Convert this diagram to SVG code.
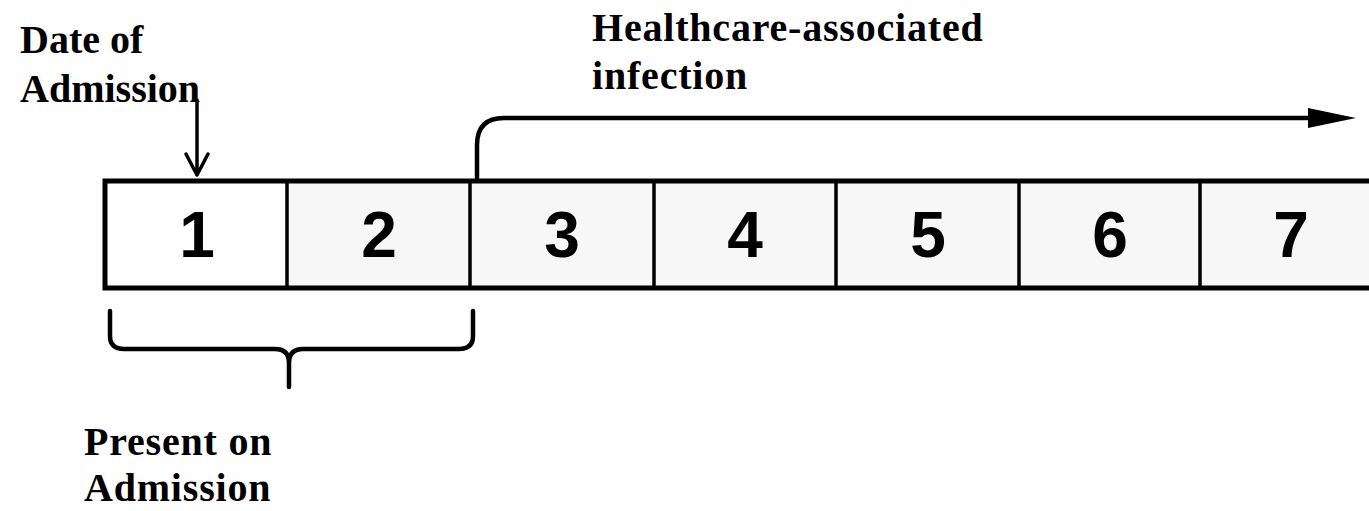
<svg xmlns="http://www.w3.org/2000/svg" width="1369" height="511" viewBox="0 0 1369 511">
<style>
.lbl{font-family:"Liberation Serif","Times New Roman",serif;font-weight:bold;font-size:40px;letter-spacing:0.8px;fill:#000}
.tight{letter-spacing:0}
.num{font-family:"Liberation Sans",Arial,sans-serif;font-weight:bold;font-size:64px;fill:#000;text-anchor:middle}
.cell{fill:#f7f7f7;stroke:none}
.div{stroke:#000;stroke-width:3.5}
.ln{fill:none;stroke:#000;stroke-linecap:round;stroke-linejoin:round}
</style>
<rect width="1369" height="511" fill="#fff"/>
<g id="timeline">
<rect x="103" y="181" width="184" height="107" fill="#fff"/>
<rect class="cell" x="287" y="181" width="1090" height="107"/>
<line class="div" x1="287" y1="181" x2="287" y2="288"/>
<line class="div" x1="470" y1="181" x2="470" y2="288"/>
<line class="div" x1="654" y1="181" x2="654" y2="288"/>
<line class="div" x1="836" y1="181" x2="836" y2="288"/>
<line class="div" x1="1019" y1="181" x2="1019" y2="288"/>
<line class="div" x1="1200" y1="181" x2="1200" y2="288"/>
<path d="M1375,181 H105 V288 H1375" fill="none" stroke="#000" stroke-width="5"/>
</g>
<g id="day1"><text class="num" x="197" y="257">1</text></g>
<g id="day2"><text class="num" x="379" y="257">2</text></g>
<g id="day3"><text class="num" x="562" y="257">3</text></g>
<g id="day4"><text class="num" x="745" y="257">4</text></g>
<g id="day5"><text class="num" x="928" y="257">5</text></g>
<g id="day6"><text class="num" x="1110" y="257">6</text></g>
<g id="day7"><text class="num" x="1291" y="257">7</text></g>
<g id="date-label"><text class="lbl tight" x="20" y="53">Date of</text><text class="lbl tight" x="20" y="102">Admission</text></g>
<g id="hai-label"><text class="lbl" x="592" y="41">Healthcare-associated</text><text class="lbl" x="592" y="89">infection</text></g>
<g id="poa-label"><text class="lbl" x="84" y="455">Present on</text><text class="lbl" x="84" y="501">Admission</text></g>
<g id="connectors">
<path class="ln" d="M197,100 V174" stroke-width="3.5"/>
<path class="ln" d="M186,154 L197,175 L208,154" stroke-width="3.5"/>
<path class="ln" d="M477,178 V145 Q477,118 504,118 H1312" stroke-width="4.5"/>
<path d="M1308,108 L1356,118 L1308,128 Z" fill="#000"/>
<path class="ln" d="M110,311 V336 Q110,349 124,349 H275 Q289,349 289,363 V387 M289,363 Q289,349 303,349 H459 Q473,349 473,336 V311" stroke-width="4.5"/>
</g>
</svg>
